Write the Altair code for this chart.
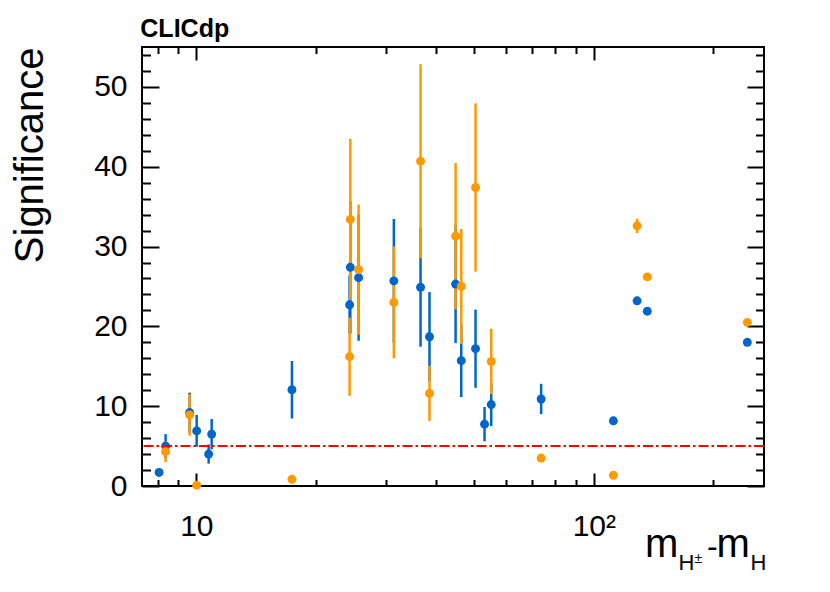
import altair as alt
import pandas as pd

# ---- data ----
blue_x = [8.06, 8.37, 9.62, 10.02, 10.74, 10.93, 17.4, 24.4, 24.3, 25.6, 31.4, 36.65,
          38.6, 44.9, 46.4, 50.4, 53.1, 55.2, 73.7, 112, 128.5, 136.3, 243.3]
blue_y = [1.7, 5.0, 9.2, 6.9, 4.0, 6.5, 12.06, 27.4, 22.7, 26.1, 25.7, 24.9,
          18.7, 25.3, 15.7, 17.2, 7.75, 10.2, 10.9, 8.17, 23.2, 21.9, 18.0]
blue_err = [0.2, 1.5, 2.5, 2.0, 1.2, 1.9, 3.6, 8.3, 3.7, 7.9, 7.75, 7.45,
            5.6, 7.4, 4.55, 4.9, 2.15, 2.7, 1.9, 0.2, 0.4, 0.3, 0.3]

orange_x = [8.37, 9.62, 10.02, 17.4, 24.4, 24.3, 25.6, 31.4, 36.65, 38.6, 44.9,
            46.4, 50.4, 55.2, 73.7, 112, 128.5, 136.3, 243.3]
orange_y = [4.3, 8.9, 0.1, 0.84, 33.4, 16.2, 27.1, 23.0, 40.7, 11.6, 31.3,
            25.0, 37.4, 15.6, 3.5, 1.34, 32.6, 26.2, 20.5]
orange_err = [1.3, 2.6, 0.05, 0.1, 10.1, 4.9, 8.15, 7.0, 12.15, 3.45, 9.15,
              7.2, 10.55, 4.1, 0.4, 0.2, 0.9, 0.35, 0.35]

threshold = [5]

x_major = [10, 100]
x_minor = [8, 9, 20, 30, 40, 50, 60, 70, 80, 90, 200]
y_major = [0, 10, 20, 30, 40, 50]
y_minor = [v for v in range(2, 55, 2) if v % 10 != 0]

BLUE = "#0066cc"
ORANGE = "#ff9900"
FONT = "Liberation Sans"


def frame(xs, ys, es):
    df = pd.DataFrame({"x": xs, "y": ys, "err": es})
    df["lo"] = df["y"] - df["err"]
    df["hi"] = df["y"] + df["err"]
    return df


blue = frame(blue_x, blue_y, blue_err)
orange = frame(orange_x, orange_y, orange_err)

x_scale = alt.Scale(type="log", domain=[7.3, 268], nice=False)
y_scale = alt.Scale(domain=[0, 55], nice=False, zero=False)

XMAJ, XMIN = 13, 6.5
YMAJ, YMIN = 17, 8.5


def tick_axis(orient, values, size, labels=False, title=None, **kw):
    return alt.Axis(orient=orient, values=values, offset=-size, tickSize=size,
                    tickWidth=2, tickColor="black", domain=False, grid=False,
                    labels=labels, title=title, **kw)


ax_bottom_major = tick_axis("bottom", x_major, XMAJ, labels=True,
                            labelExpr="datum.value == 10 ? '10' : '10²'",
                            labelFont=FONT, labelFontSize=30, labelColor="black",
                            labelPadding=25)
ax_bottom_minor = tick_axis("bottom", x_minor, XMIN)
ax_top_major = tick_axis("top", x_major, XMAJ)
ax_top_minor = tick_axis("top", x_minor, XMIN)

ax_left_major = tick_axis("left", y_major, YMAJ, labels=True,
                          labelFont=FONT, labelFontSize=30, labelColor="black",
                          labelPadding=15,
                          title="Significance", titleFont=FONT, titleFontSize=40,
                          titleFontWeight="normal", titleColor="black",
                          titleAngle=270, titleAlign="right",
                          titleBaseline="alphabetic", titleX=-117, titleY=0)
ax_left_minor = tick_axis("left", y_minor, YMIN)
ax_right_major = tick_axis("right", y_major, YMAJ)
ax_right_minor = tick_axis("right", y_minor, YMIN)

blue_err_layer = alt.Chart(blue).mark_rule(color=BLUE, strokeWidth=2.5).encode(
    x=alt.X("x:Q", scale=x_scale, axis=ax_bottom_major),
    y=alt.Y("lo:Q", scale=y_scale, axis=ax_left_major),
    y2="hi:Q",
)
orange_err_layer = alt.Chart(orange).mark_rule(color=ORANGE, strokeWidth=2.5).encode(
    x=alt.X("x:Q", scale=x_scale, axis=ax_bottom_minor),
    y=alt.Y("lo:Q", scale=y_scale, axis=ax_left_minor),
    y2="hi:Q",
)
blue_pts = alt.Chart(blue).mark_circle(color=BLUE, size=80, opacity=1).encode(
    x=alt.X("x:Q", scale=x_scale, axis=ax_top_major),
    y=alt.Y("y:Q", scale=y_scale, axis=ax_right_major),
)
orange_pts = alt.Chart(orange).mark_circle(color=ORANGE, size=80, opacity=1).encode(
    x=alt.X("x:Q", scale=x_scale, axis=ax_top_minor),
    y=alt.Y("y:Q", scale=y_scale, axis=ax_right_minor),
)
thr = alt.Chart(pd.DataFrame({"v": threshold})).mark_rule(
    color="#ff0000", strokeWidth=2, strokeDash=[10, 3, 2.5, 3]
).encode(y=alt.Y("v:Q", scale=y_scale, axis=None))


def label(text, px, py, size, weight="normal"):
    return alt.Chart(alt.Data(values=[{}])).mark_text(
        text=text, font=FONT, fontSize=size, fontWeight=weight, color="black",
        align="left", baseline="alphabetic"
    ).encode(x=alt.value(px), y=alt.value(py))


texts = [
    label("CLICdp", -1.7, -10, 25, "bold"),
    label("m", 503, 510, 40),
    label("H", 536.5, 523.3, 22),
    label("±", 552.5, 516, 14),
    label("-", 565, 510, 32),
    label("m", 574.5, 510, 40),
    label("H", 608.5, 523.3, 22),
]

chart = alt.layer(
    blue_err_layer, orange_err_layer, blue_pts, orange_pts, thr, *texts
).resolve_axis(x="independent", y="independent").properties(
    width=622, height=439,
    autosize=alt.AutoSizeParams(type="none"),
    padding={"left": 134, "top": 39, "right": 58, "bottom": 90},
).configure_view(stroke="black", strokeWidth=2).configure_axis(grid=False)

chart.save("out.html", embed_options={"renderer": "svg", "actions": False})
